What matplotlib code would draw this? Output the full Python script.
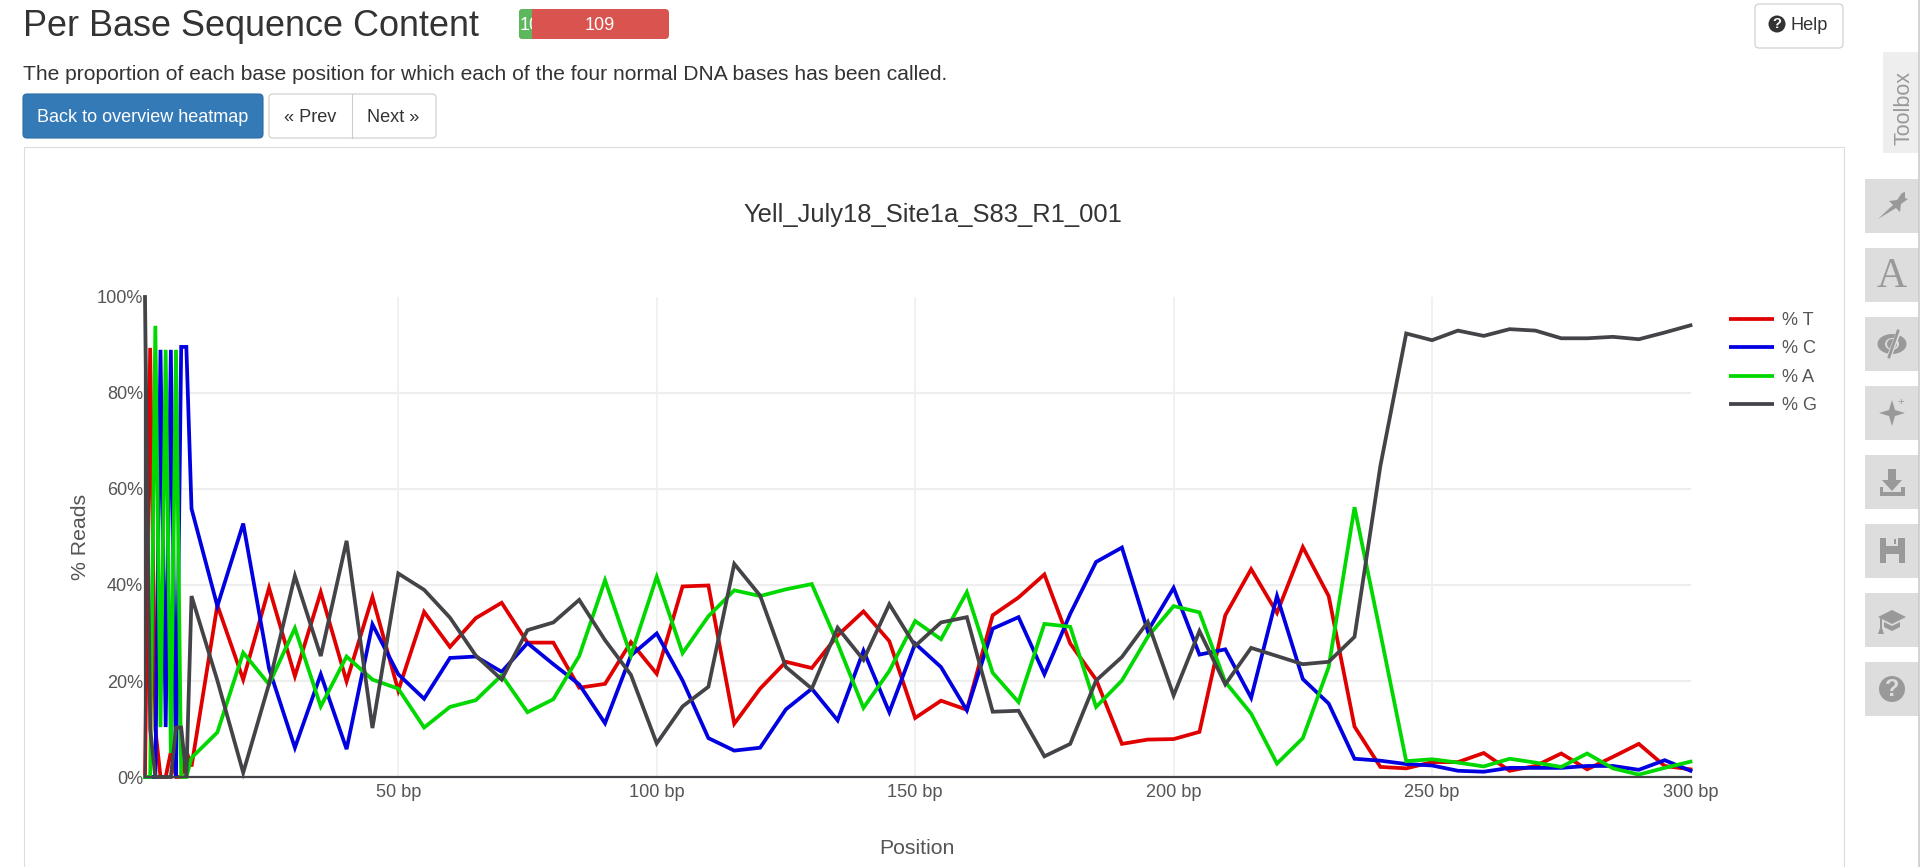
import matplotlib
matplotlib.use("Agg")
import matplotlib.pyplot as plt
from matplotlib.patches import FancyBboxPatch, Rectangle, Circle, Polygon, Ellipse

W, H = 1921, 867

positions = list(range(1, 11)) + list(range(15, 301, 5))

pct_t = [0, 89.4, 10, 0, 0, 5.2, 0, 0, 5.4, 2.2,
         35.8, 20.3, 39.4, 21, 38.5, 19.9, 37.5, 18, 34.4, 27.1,
         33.1, 36.3, 28, 28, 18.6, 19.4, 28.1, 21.5, 39.7, 39.9,
         11.1, 18.4, 24, 22.7, 29.5, 34.5, 28.3, 12.3, 15.9, 14,
         33.7, 37.4, 42.2, 27.8, 20.3, 6.9, 7.8, 7.9, 9.4, 33.7,
         43.3, 34.2, 47.9, 37.7, 10.5, 2.1, 1.8, 3.1, 3.1, 5,
         1.3, 2.3, 4.9, 1.6, 4.2, 6.9, 2.3, 1.6]
pct_c = [0, 0, 0, 89, 10.4, 89, 0, 89.6, 89.6, 55.9,
         35.6, 52.8, 22.6, 6.1, 21.4, 5.8, 31.8, 21.4, 16.3, 24.8,
         25.1, 21.9, 27.9, 23.5, 19.3, 11.2, 25.3, 29.9, 20.1, 8.1,
         5.5, 6.1, 14.1, 18.4, 11.8, 26.3, 13.5, 27.8, 22.9, 13.9,
         30.9, 33.3, 21.4, 34, 44.8, 47.8, 30.4, 39.4, 25.5, 26.6,
         16.5, 37.7, 20.4, 15.3, 3.8, 3.4, 2.7, 2.4, 1.3, 1.1,
         1.9, 1.9, 1.9, 2.3, 2.3, 1.5, 3.5, 1.3]
pct_a = [0, 0, 94, 10.4, 89, 5, 89, 0, 0, 4,
         9.3, 25.9, 19.3, 31, 14.7, 25.1, 20.3, 18.4, 10.3, 14.6,
         16, 21.2, 13.5, 16.2, 25.2, 41, 25.3, 41.7, 25.8, 33.5,
         38.9, 37.7, 39.1, 40.2, 27.8, 14.4, 22.1, 32.5, 28.7, 38.5,
         21.7, 15.6, 31.9, 31.3, 14.6, 20.1, 29.2, 35.6, 34.3, 19.8,
         13.2, 2.8, 8.1, 22.9, 56.2, 30, 3.3, 3.7, 3, 2.2,
         3.8, 3, 2.1, 4.9, 1.8, 0.5, 1.9, 3.2]
pct_g = [100, 10, 0, 0, 0, 0, 10.3, 10.3, 0, 37.7,
         20.1, 0.9, 19.4, 41.9, 25.2, 49.2, 10.2, 42.4, 39, 33.2,
         25.3, 20.3, 30.6, 32.2, 36.9, 28.5, 21.3, 7, 14.7, 18.8,
         44.4, 37.8, 22.9, 18.4, 31.1, 24.4, 36, 27.3, 32.2, 33.3,
         13.6, 13.8, 4.3, 6.9, 20.1, 25, 32.3, 17, 30.4, 19.3,
         26.9, 25.2, 23.5, 24, 29.2, 64.8, 92.4, 91, 93, 91.9,
         93.3, 93, 91.4, 91.4, 91.7, 91.2, 92.6, 94.1]

series_names = ["% T", "% C", "% A", "% G"]
series_values = [pct_t, pct_c, pct_a, pct_g]
series_colors = ["#e00000", "#0000e0", "#00d800", "#434348"]

x_ticks = [50, 100, 150, 200, 250, 300]
y_ticks = [0, 20, 40, 60, 80, 100]

plt.rcParams["font.family"] = ["Liberation Sans", "DejaVu Sans"]

fig = plt.figure(figsize=(W / 100, H / 100), dpi=100, facecolor="white")

# page layer in pixel coordinates
page = fig.add_axes([0, 0, 1, 1])
page.set_xlim(0, W)
page.set_ylim(H, 0)
page.axis("off")


def box(x, y, w, h, face, edge="none", lw=0.8, r=4, z=1):
    page.add_patch(FancyBboxPatch((x + r, y + r), w - 2 * r, h - 2 * r,
                                  boxstyle="round,pad=%d" % r, fc=face, ec=edge, lw=lw, zorder=z))


txt = "#333333"
page.text(23, 27, "Per Base Sequence Content", fontsize=25.9, color=txt, va="center")
page.text(23, 74, "The proportion of each base position for which each of the four normal DNA bases has been called.",
          fontsize=15.1, color=txt, va="center")

# status bar
box(519, 9, 150, 30, "#d9534f", r=4)
box(519, 9, 13, 30, "#5cb85c", r=4, z=2)
page.add_patch(Rectangle((526, 9), 6, 30, fc="#5cb85c", ec="none", zorder=2))
page.text(600, 25, "109", fontsize=13, color="white", ha="center", va="center", zorder=3)
ten = page.text(520, 25, "10", fontsize=13, color="white", va="center", zorder=3, clip_on=True)
ten.set_clip_path(Rectangle((519, 9), 13, 30, transform=page.transData))

# buttons
box(23, 94, 240, 44, "#337ab7", "#2e6da4")
page.text(143, 117, "Back to overview heatmap", fontsize=13, color="white", ha="center", va="center")
box(269, 94, 167, 44, "white", "#cccccc")
page.plot([351.5, 351.5], [94, 138], color="#cccccc", lw=0.8)
page.text(310, 117, "« Prev", fontsize=13.1, color=txt, ha="center", va="center")
page.text(393, 117, "Next »", fontsize=13.1, color=txt, ha="center", va="center")

box(1755, 4, 88, 44, "white", "#cccccc")
page.add_patch(Circle((1777, 24), 8.5, fc=txt, ec="none"))
page.text(1777, 24.5, "?", fontsize=10.5, color="white", ha="center", va="center", fontweight="bold")
page.text(1791, 26, "Help", fontsize=13.1, color=txt, va="center")

# plot frame and toolbox
page.plot([23.5, 23.5, 1843.5, 1843.5], [867, 146.5, 146.5, 867], color="#dddddd", lw=0.8)
page.plot([1919, 1919], [0, 867], color="#cccccc", lw=1.2)
page.add_patch(Rectangle((1883, 52), 36, 101, fc="#eeeeee", ec="none"))
page.text(1904, 108, "Toolbox", fontsize=15.5, color="#999999", rotation=90, ha="center", va="center")

icon_tops = [179, 248, 317, 386, 455, 524, 593, 662]
for top in icon_tops:
    page.add_patch(Rectangle((1865, top), 54, 54, fc="#dddddd", ec="none"))
icon = "#999999"
# pin
page.add_patch(Polygon([(1878, 219), (1893, 205), (1889, 201), (1897, 200), (1902, 193), (1905, 192),
                        (1905, 198), (1908, 199), (1901, 204), (1900, 212), (1896, 208)],
                       fc=icon, ec="none"))
page.text(1892, 277, "A", fontsize=30, family="Liberation Serif", color=icon, ha="center", va="center")
# eye with slash
page.add_patch(Ellipse((1892, 344), 29, 20, fc=icon, ec="none"))
page.add_patch(Ellipse((1892, 344), 14, 12, fc="#dddddd", ec="none"))
page.add_patch(Circle((1892, 344), 5, fc=icon, ec="none"))
page.plot([1899, 1889], [331, 357], color="#dddddd", lw=3.5)
page.plot([1898, 1889], [331, 357], color=icon, lw=2)
# sparkle
page.add_patch(Polygon([(1892, 400), (1895, 410), (1905, 413), (1895, 416), (1892, 426), (1889, 416), (1879, 413), (1889, 410)],
                       fc=icon, ec="none"))
page.text(1901, 402, "+", fontsize=8, color=icon, ha="center", va="center")
# download
page.add_patch(Polygon([(1888, 469), (1896, 469), (1896, 480), (1902, 480), (1892, 491), (1882, 480), (1888, 480)],
                       fc=icon, ec="none"))
page.add_patch(Polygon([(1880, 487), (1883, 487), (1883, 492), (1901, 492), (1901, 487), (1905, 487), (1905, 496), (1880, 496)],
                       fc=icon, ec="none"))
# floppy
page.add_patch(Rectangle((1880, 538), 25, 25, fc=icon, ec="none"))
page.add_patch(Rectangle((1886, 538), 12, 8, fc="#dddddd", ec="none"))
page.add_patch(Rectangle((1894, 539), 2, 5, fc=icon, ec="none"))
page.add_patch(Rectangle((1886, 554), 13, 9, fc="#dddddd", ec="none"))
# graduation cap
page.add_patch(Polygon([(1892, 610), (1906, 617), (1892, 624), (1878, 617)], fc=icon, ec="none"))
page.add_patch(Polygon([(1884, 622), (1892, 626), (1900, 622), (1900, 627), (1892, 631), (1884, 627)], fc=icon, ec="none"))
page.add_patch(Polygon([(1880, 618), (1882, 619), (1882, 628), (1884, 634), (1878, 634), (1880, 628)], fc=icon, ec="none"))
# question mark
page.add_patch(Circle((1892, 689), 13, fc=icon, ec="none"))
page.text(1892, 690, "?", fontsize=17, color="#dddddd", ha="center", va="center", fontweight="bold")

# chart, axes box set from the pixel positions of the axis ends
left, right, top, bottom = 145, 1690.5, 297, 777
ax = fig.add_axes([left / W, 1 - bottom / H, (right - left) / W, (bottom - top) / H])
ax.patch.set_alpha(0)
for name, values, color in zip(series_names, series_values, series_colors):
    ax.plot(positions, values, color=color, lw=2.7, solid_joinstyle="miter", label=name, clip_on=False, zorder=3)

ax.set_xlim(1, 300)
ax.set_ylim(0, 100)
ax.set_xticks(x_ticks)
ax.set_xticklabels(["%d bp" % v for v in x_ticks])
ax.set_yticks(y_ticks)
ax.set_yticklabels(["%d%%" % v for v in y_ticks])
ax.grid(True, axis="y", color="#eeeeee", lw=1.6)
ax.grid(True, axis="x", color="#eeeeee", lw=1.1)
ax.set_axisbelow(True)
ax.xaxis.get_gridlines()[-1].set_visible(False)
ax.yaxis.get_gridlines()[-1].set_visible(False)
ax.tick_params(length=0, labelsize=13.1, labelcolor="#555555")
ax.tick_params(axis="x", pad=5)
ax.tick_params(axis="y", pad=1.5)
for side in ["top", "right"]:
    ax.spines[side].set_visible(False)
for side in ["left", "bottom"]:
    ax.spines[side].set_color("#434348")
    ax.spines[side].set_linewidth(1.6)
    ax.spines[side].set_zorder(4)

page.text(933, 215, "Yell_July18_Site1a_S83_R1_001", fontsize=18.4, color=txt, ha="center", va="center")
page.text(917, 849, "Position", fontsize=15.3, color="#555555", ha="center", va="center")
page.text(80, 537, "% Reads", fontsize=15.3, color="#555555", rotation=90, ha="center", va="center")

for i, (name, color) in enumerate(zip(series_names, series_colors)):
    y = 319 + i * 28.4
    page.plot([1729, 1774], [y, y], color=color, lw=2.7, solid_capstyle="butt")
    page.text(1782, y + 1.5, name, fontsize=13.1, color="#555555", va="center")

fig.savefig("out.png", dpi=100, facecolor="white")
